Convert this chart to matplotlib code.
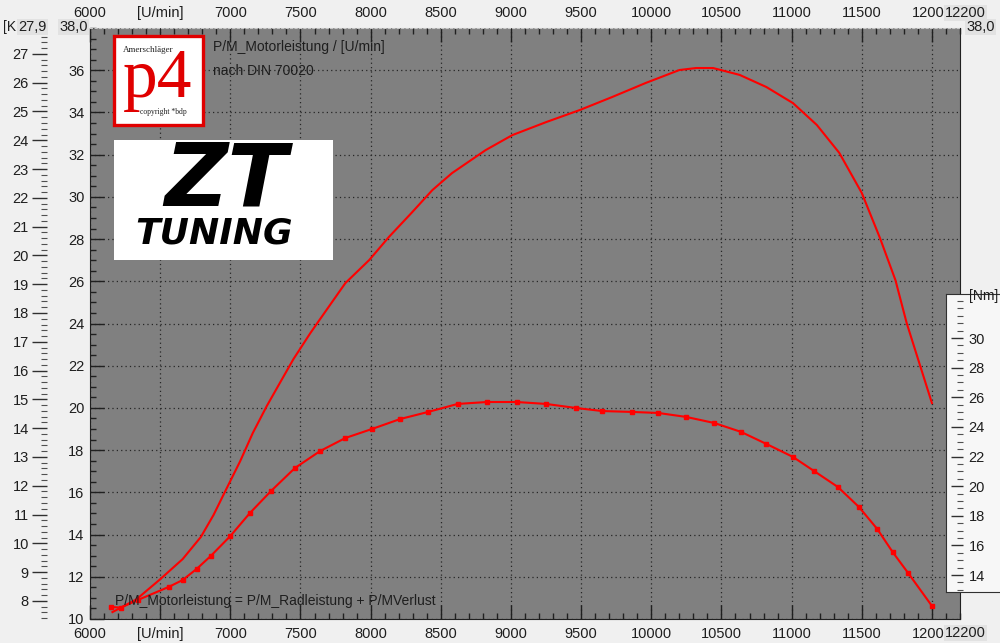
import matplotlib
matplotlib.use('Agg')
import matplotlib.pyplot as plt
from matplotlib.ticker import MultipleLocator, FixedLocator, FixedFormatter
from matplotlib.patches import Rectangle

# ---------------- data ----------------
rpm_power = [6160, 6330, 6500, 6660, 6790, 6880, 6970, 7070, 7160, 7260,
             7360, 7450, 7570, 7630, 7820, 7990, 8130, 8290, 8440, 8580, 8820,
             9010, 9250, 9490, 9720, 9960, 10200, 10320, 10440, 10630, 10820,
             11010, 11180, 11340, 11500, 11630, 11740, 11820, 11910, 12000]
power_kw = [7.61, 8.05, 8.75, 9.45, 10.22, 10.98, 11.87, 12.85, 13.83, 14.77,
            15.63, 16.40, 17.30, 17.72, 19.04, 19.84, 20.64, 21.47, 22.27, 22.86, 23.66,
            24.18, 24.63, 25.05, 25.50, 25.99, 26.44, 26.51, 26.51, 26.27, 25.85,
            25.29, 24.53, 23.56, 22.17, 20.60, 19.14, 17.65, 16.26, 14.87]

rpm_torque = [6150, 6220, 6340, 6560, 6660, 6760, 6860, 7000, 7140, 7290,
              7460, 7640, 7820, 8010, 8210, 8410, 8620, 8830, 9040, 9250,
              9460, 9650, 9860, 10050, 10250, 10450, 10640, 10820, 11010, 11160,
              11330, 11480, 11610, 11720, 11830, 12000]
torque_nm = [11.84, 11.80, 12.31, 13.19, 13.66, 14.41, 15.28, 16.63, 18.19, 19.67,
             21.22, 22.37, 23.25, 23.86, 24.53, 25.01, 25.55, 25.68, 25.68, 25.55,
             25.28, 25.07, 25.01, 24.94, 24.67, 24.26, 23.66, 22.85, 21.97, 21.02,
             19.94, 18.59, 17.11, 15.55, 14.14, 11.91]

x_ticks = [6000, 6500, 7000, 7500, 8000, 8500, 9000, 9500, 10000, 10500,
           11000, 11500, 12000]
x_labels = ['6000', '[U/min]', '7000', '7500', '8000', '8500', '9000', '9500',
            '10000', '10500', '11000', '11500', '12000']
main_ticks = [10, 12, 14, 16, 18, 20, 22, 24, 26, 28, 30, 32, 34, 36]
k_ticks = list(range(8, 28))
nm_ticks = [14, 16, 18, 20, 22, 24, 26, 28, 30]

main_lim = (10, 38)
k_lim = (7.37, 27.9)
nm_lim = (11.03, 50.93)
x_lim = (6000, 12200)

# ---------------- layout ----------------
W, H = 1000, 643
L, R, T, B = 90, 960, 28, 619
FONT = ['Liberation Sans', 'DejaVu Sans']
TXT = '#1e1e1e'
FS = 10.5
plt.rcParams['font.family'] = FONT

fig = plt.figure(figsize=(W / 100, H / 100), dpi=100, facecolor='#f0f0f0')
ax = fig.add_axes([L / W, 1 - B / H, (R - L) / W, (B - T) / H])
ax.set_facecolor('#808080')
ax.set_xlim(*x_lim)
ax.set_ylim(*main_lim)

ax.xaxis.set_major_locator(FixedLocator(x_ticks))
ax.xaxis.set_major_formatter(FixedFormatter(x_labels))
ax.xaxis.set_minor_locator(MultipleLocator(100))
ax.yaxis.set_major_locator(FixedLocator(main_ticks))
ax.yaxis.set_minor_locator(MultipleLocator(0.5))
ax.tick_params(axis='both', which='both', direction='in', colors='#202020',
               labelcolor=TXT, labelsize=FS)
ax.tick_params(axis='x', which='both', top=True, bottom=True, labeltop=True,
               labelbottom=True, pad=6)
ax.tick_params(axis='y', which='both', left=True, right=True, labelleft=True,
               labelright=True, pad=4)
ax.tick_params(which='major', length=10, width=1)
ax.tick_params(which='minor', length=4, width=1)
ax.grid(True, which='major', color='#262626', linestyle=(0, (1, 2.5)), linewidth=0.9)
for s in ['left', 'bottom', 'right']:
    ax.spines[s].set_color('#202020')
ax.spines['top'].set_color('#c8c8c8')
ax.spines['top'].set_linestyle((0, (2, 2)))
# right-side label 26 is not shown in the reference (room for the [Nm] box)
for tk, val in zip(ax.yaxis.get_major_ticks(), main_ticks):
    if val == 26:
        tk.label2.set_visible(False)

# ---- kW axis (outer left) ----
axk = ax.twinx()
axk.set_ylim(*k_lim)
axk.yaxis.set_ticks_position('left')
axk.yaxis.set_label_position('left')
axk.spines['left'].set_position(('axes', -(L - 47) / (R - L)))
for s in axk.spines.values():
    s.set_visible(False)
axk.yaxis.set_major_locator(FixedLocator(k_ticks))
axk.yaxis.set_minor_locator(MultipleLocator(0.2))
axk.tick_params(axis='y', which='major', direction='out', length=11, width=1,
                colors='#303030', labelcolor=TXT, labelsize=FS, pad=2)
axk.tick_params(axis='y', which='minor', direction='out', length=4, width=0.8,
                colors='#505050')
axk.plot(rpm_power, power_kw, color='#ff0000', lw=1.5, zorder=5)

# ---- torque data axis (hidden) ----
axt = ax.twinx()
axt.set_ylim(*nm_lim)
axt.set_axis_off()
axt.plot(rpm_torque, torque_nm, color='#ff0000', lw=1.5, marker='s',
         markersize=3.0, zorder=5)

# ---- Nm panel ----
PL, PT, PB = 946, 294, 592
def nm_at(ypix):
    return nm_lim[0] + (B - ypix) / (B - T) * (nm_lim[1] - nm_lim[0])
panel = fig.add_axes([PL / W, 1 - PB / H, (W - PL + 2) / W, (PB - PT) / H])
panel.set_facecolor('#f7f7f7')
panel.set_ylim(nm_at(PB), nm_at(PT))
panel.set_xticks([])
panel.yaxis.tick_right()
panel.spines['right'].set_position(('axes', (963 - PL) / (W - PL + 2)))
panel.spines['right'].set_visible(False)
for s in ['left', 'top', 'bottom']:
    panel.spines[s].set_color('#303030')
panel.yaxis.set_major_locator(FixedLocator(nm_ticks))
panel.yaxis.set_minor_locator(MultipleLocator(0.5))
panel.tick_params(axis='y', which='major', direction='in', length=9, width=1,
                  colors='#303030', labelcolor=TXT, labelsize=FS, pad=4)
panel.tick_params(axis='y', which='minor', direction='in', length=4, width=0.8,
                  colors='#505050')
fig.text(969 / W, 1 - 296 / H, '[Nm]', fontsize=10, color=TXT, ha='left', va='center')

# ---- corner labels ----
def ftext(x, y, s, **kw):
    return fig.text(x / W, 1 - y / H, s, **kw)

box = dict(boxstyle='square,pad=0.1', fc='#e2e2e2', ec='none')
ftext(3, 27, '[K', fontsize=10, color=TXT, ha='left', va='center')
ftext(47, 27, '27,9', fontsize=FS, color=TXT, ha='right', va='center', bbox=box)
ftext(88, 27, '38,0', fontsize=FS, color=TXT, ha='right', va='center', bbox=box)
ftext(966, 27, '38,0', fontsize=FS, color=TXT, ha='left', va='center', bbox=box)
ftext(945, 13, '12200', fontsize=FS, color=TXT, ha='left', va='center', bbox=box)
ftext(945, 633, '12200', fontsize=FS, color=TXT, ha='left', va='center', bbox=box)

# ---- texts in plot ----
ftext(213, 47, 'P/M_Motorleistung / [U/min]', fontsize=10, color=TXT, ha='left', va='center')
ftext(213, 71, 'nach DIN 70020', fontsize=10, color=TXT, ha='left', va='center')
ftext(115, 601, 'P/M_Motorleistung = P/M_Radleistung + P/MVerlust', fontsize=10,
      color=TXT, ha='left', va='center', zorder=10)

# ---- p4 logo ----
fig.add_artist(Rectangle((114 / W, 1 - 125 / H), 89 / W, 89 / H, transform=fig.transFigure,
                         fc='white', ec='#e00000', lw=2.4, zorder=8))
ftext(123, 50, 'Amerschläger', family='Liberation Serif', fontsize=6.5, color='#202020',
      ha='left', va='center', zorder=9)
ftext(123, 97, 'p4', family='Liberation Serif', fontsize=50, color='#e00000',
      ha='left', va='baseline', zorder=9)
ftext(140, 112, 'copyright *bdp', family='Liberation Serif', fontsize=5.5, color='#202020',
      ha='left', va='center', zorder=9)

# ---- ZT TUNING logo ----
fig.add_artist(Rectangle((114 / W, 1 - 260 / H), 219 / W, 120 / H, transform=fig.transFigure,
                         fc='white', ec='none', zorder=8))
ftext(226, 181, 'ZT', family='DejaVu Sans', fontweight='bold', style='italic',
      fontsize=63, color='black', ha='center', va='center', zorder=9)
ftext(214, 233, 'TUNING', family='DejaVu Sans', fontweight='bold', style='italic',
      fontsize=26, color='black', ha='center', va='center', zorder=9)

fig.savefig('out.png', dpi=100, facecolor=fig.get_facecolor())
